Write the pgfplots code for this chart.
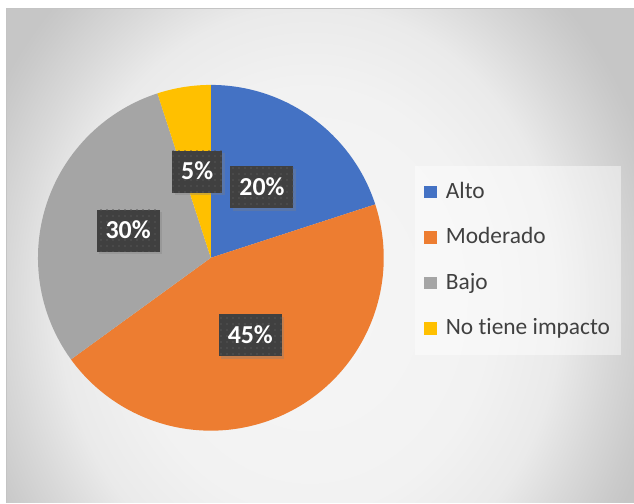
\documentclass[border=0pt]{standalone}
\usepackage{pgfplots}
\pgfplotsset{compat=1.18}
\usepackage{fontspec}
\setmainfont{Carlito}[Ligatures={NoCommon,NoRequired,NoContextual,NoRare}]
\usetikzlibrary{patterns.meta,shadows}

\definecolor{cAlto}{HTML}{4472C4}
\definecolor{cMod}{HTML}{ED7D31}
\definecolor{cBajo}{HTML}{A5A5A5}
\definecolor{cNo}{HTML}{FFC000}
\definecolor{lblbg}{HTML}{404040}
\definecolor{lbldot}{HTML}{555555}
\definecolor{bg0}{HTML}{F6F6F6}
\definecolor{bg1}{HTML}{F2F2F2}
\definecolor{bg2}{HTML}{EAEAEA}
\definecolor{bg3}{HTML}{D8D8D8}
\definecolor{bg4}{HTML}{CBCBCB}
\definecolor{bg5}{HTML}{C6C6C6}
\definecolor{frame}{HTML}{C4C4C4}
\definecolor{legtext}{HTML}{404040}

\pgfdeclareradialshading{bgshade}{\pgfpoint{0bp}{0bp}}{color(0bp)=(bg0); color(12.5bp)=(bg1); color(17.5bp)=(bg2); color(21bp)=(bg3); color(23.75bp)=(bg4); color(25bp)=(bg5); color(50bp)=(bg5)}

% data (percent)
\def\vAlto{20}
\def\vMod{45}
\def\vBajo{30}
\def\vNo{5}
\pgfmathsetmacro\aA{90}
\pgfmathsetmacro\aB{\aA-3.6*\vAlto}
\pgfmathsetmacro\aC{\aB-3.6*\vMod}
\pgfmathsetmacro\aD{\aC-3.6*\vBajo}
\pgfmathsetmacro\aE{\aD-3.6*\vNo}
\pgfmathsetmacro\mA{(\aA+\aB)/2}
\pgfmathsetmacro\mB{(\aB+\aC)/2}
\pgfmathsetmacro\mC{(\aC+\aD)/2}
\pgfmathsetmacro\mD{(\aD+\aE)/2}
\def\R{173bp}
\def\L{87bp}

\tikzset{lbl/.style={fill=lblbg, text=white, font=\fontsize{26}{30}\selectfont\bfseries,
  inner xsep=9bp, inner ysep=0pt, minimum height=42bp, text height=17bp, text depth=1bp,
  drop shadow={opacity=0.35, shadow xshift=2.5bp, shadow yshift=-2.5bp},
  postaction={pattern={Dots[distance=6bp,radius=0.8bp]}, pattern color=lbldot}}}

\begin{document}
\begin{tikzpicture}
\begin{axis}[
  scale only axis, width=634bp, height=503bp,
  xmin=0, xmax=634, ymin=0, ymax=503,
  hide axis, clip=false,
  legend style={at={(axis description cs:0.6546,0.670)}, anchor=north west,
    draw=none, fill=white, fill opacity=0.45, text opacity=1,
    font=\fontsize{23.5}{28}\selectfont, text=legtext, row sep=19.6bp, inner xsep=9bp, inner ysep=13bp,
    nodes={text height=17bp, text depth=5bp},
    legend cell align=left},
  legend image code/.code={\path[draw=none,fill=none] (0bp,0bp) -- (20bp,0bp);\fill[#1, fill opacity=1, draw=none] (0bp,-6bp) rectangle (13bp,6.5bp);},
]
% background
\fill[white] (axis cs:0,0) rectangle (axis cs:634,503);
\fill[bg5] (axis cs:7,0) rectangle (axis cs:634,494);
\begin{scope}
\clip (axis cs:7,0) rectangle (axis cs:634,494);
\shade[shading=bgshade] (axis cs:310,203) ellipse [x radius=360bp, y radius=420bp];
\end{scope}
\draw[frame, line width=1bp] (axis cs:7,0) -- (axis cs:7,494) -- (axis cs:634,494);

% pie
\fill[cAlto] (axis cs:211,245) -- ++(\aA:\R) arc[start angle=\aA, end angle=\aB, radius=\R] -- cycle;
\fill[cMod]  (axis cs:211,245) -- ++(\aB:\R) arc[start angle=\aB, end angle=\aC, radius=\R] -- cycle;
\fill[cBajo] (axis cs:211,245) -- ++(\aC:\R) arc[start angle=\aC, end angle=\aD, radius=\R] -- cycle;
\fill[cNo]   (axis cs:211,245) -- ++(\aD:\R) arc[start angle=\aD, end angle=\aE, radius=\R] -- cycle;

% labels
\path (axis cs:211,245) ++(\mA:\L) node[lbl] {20\%};
\path (axis cs:211,245) ++(\mB:\L) node[lbl] {45\%};
\path (axis cs:211,245) ++(\mC:\L) node[lbl] {30\%};
\path (axis cs:211,245) ++(\mD:\L) node[lbl] {5\%};

\addlegendimage{cAlto}\addlegendentry{Alto}
\addlegendimage{cMod}\addlegendentry{Moderado}
\addlegendimage{cBajo}\addlegendentry{Bajo}
\addlegendimage{cNo}\addlegendentry{No tiene impacto}
\end{axis}
\end{tikzpicture}
\end{document}
